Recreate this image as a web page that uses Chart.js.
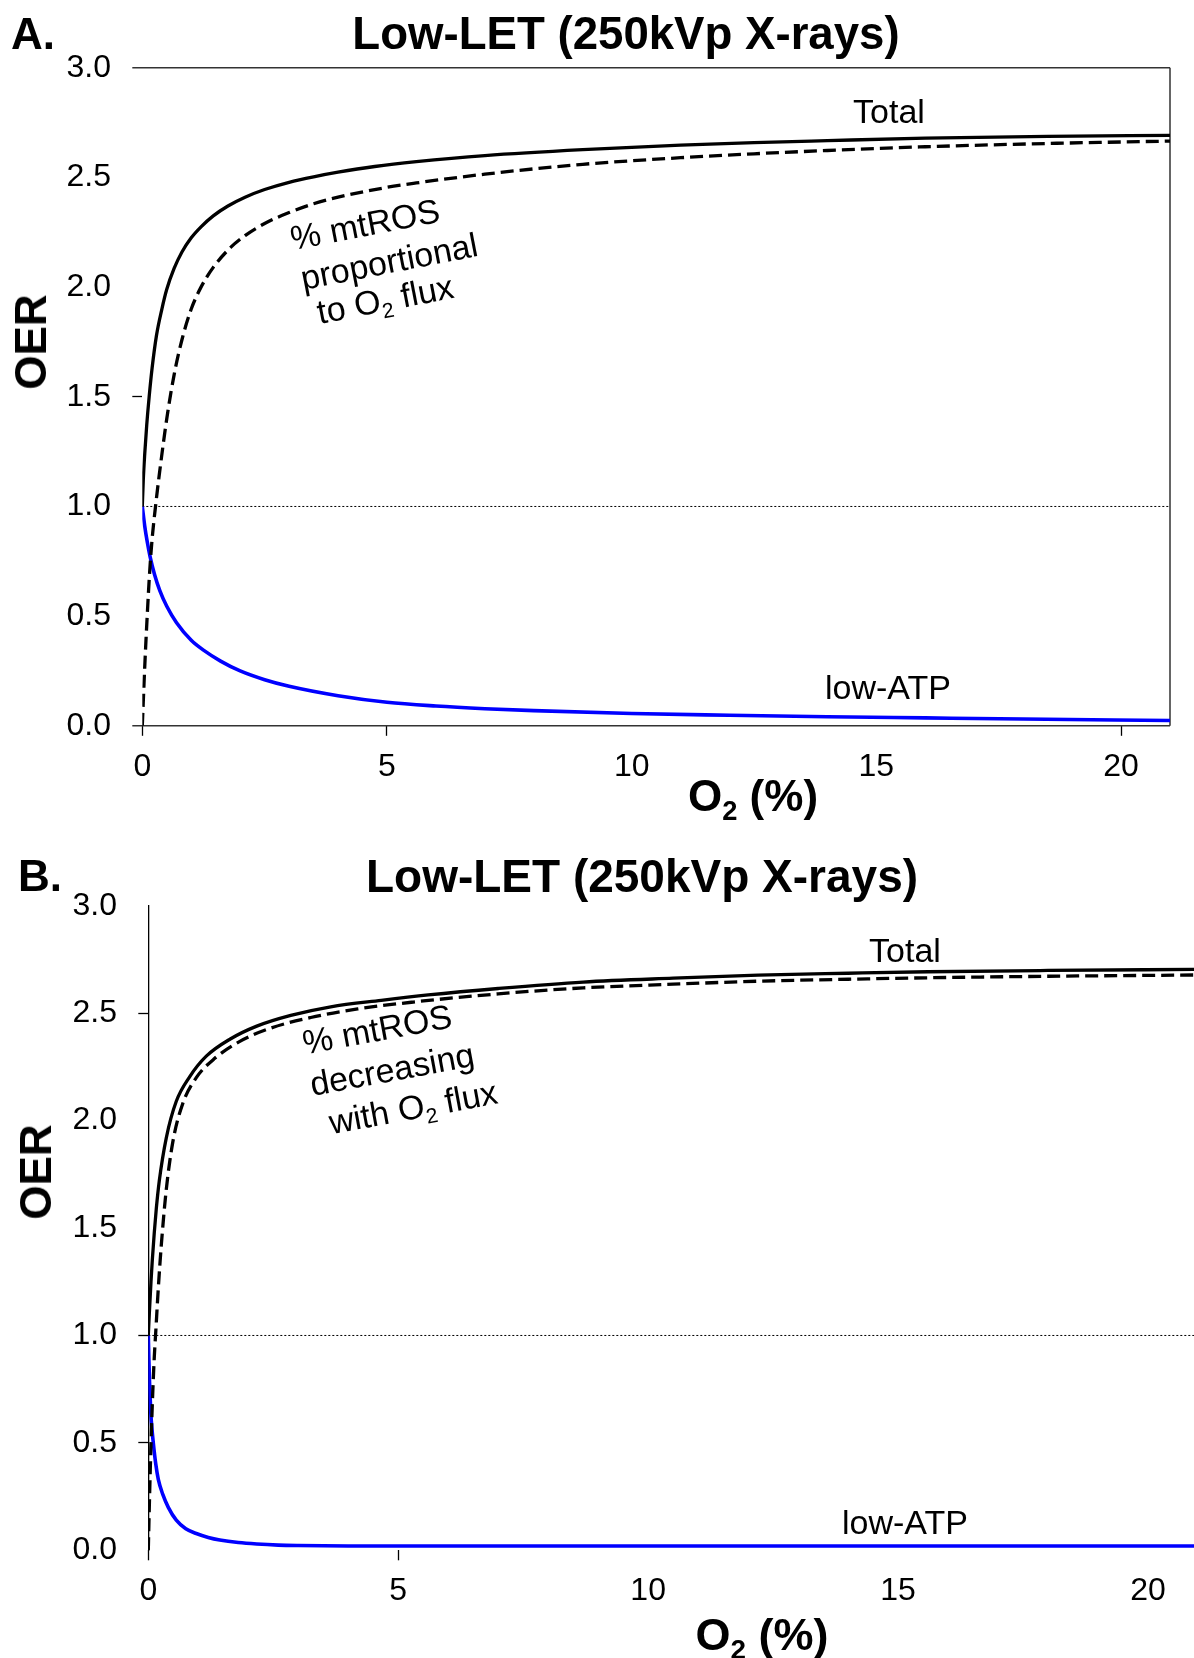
<!DOCTYPE html>
<html>
<head>
<meta charset="utf-8">
<script src="https://cdn.jsdelivr.net/npm/chart.js@4.4.1/dist/chart.umd.min.js"></script>
<style>
  html, body { margin: 0; padding: 0; background: #fff; overflow: hidden; }
  body { width: 1194px; height: 1658px; position: relative; font-family: "Liberation Sans", Arial, sans-serif; color: #000; }
  canvas { position: absolute; left: 0; }
  #chartA { top: 0; }
  #chartB { top: 830px; }
  .lbl { position: absolute; white-space: nowrap; line-height: 1; transform-origin: center center; }
  .lbl sub { font-size: 0.62em; vertical-align: baseline; position: relative; top: 0.32em; line-height: 0; }
</style>
</head>
<body>
<canvas id="chartA" width="1194" height="830"></canvas>
<canvas id="chartB" width="1194" height="828"></canvas>
<script>
// ── axis ticks ──
const xTicks = [0, 5, 10, 15, 20];
const yTicks = [0, 0.5, 1.0, 1.5, 2.0, 2.5, 3.0];
// tick marks that are actually drawn on each panel
const xMarksA = [0, 5, 20];
const yMarksA = [1.5];
const xMarksB = [0, 5];
const yMarksB = [0.5, 1.0, 2.5];

// reference line OER = 1
const refX = [0, 21];
const refY = [1, 1];

// ── panel A: % mtROS proportional to O2 flux ──
const totalAx = [0, 0.02, 0.05, 0.09, 0.14, 0.2, 0.29, 0.4, 0.5, 0.65, 0.81, 1.0, 1.2, 1.45, 1.75, 2.1, 2.5, 3.0, 3.5, 4.0, 4.75, 5.6, 7.0, 9.0, 11.0, 12.5, 14.0, 16.0, 18.5, 21.0];
const totalAy = [1.00, 1.12, 1.24, 1.37, 1.50, 1.63, 1.78, 1.90, 1.99, 2.085, 2.16, 2.225, 2.275, 2.325, 2.37, 2.41, 2.445, 2.478, 2.503, 2.524, 2.55, 2.572, 2.60, 2.627, 2.647, 2.659, 2.668, 2.679, 2.687, 2.692];

const mtrosAx = [0, 0.05, 0.1, 0.15, 0.2, 0.27, 0.35, 0.5, 0.65, 0.81, 1.0, 1.2, 1.45, 1.8, 2.1, 2.5, 3.0, 3.5, 4.0, 5.0, 5.6, 7.0, 9.0, 11.0, 12.5, 14.0, 16.0, 18.5, 21.0];
const mtrosAy = [0, 0.27, 0.50, 0.70, 0.85, 1.00, 1.15, 1.40, 1.60, 1.76, 1.90, 2.00, 2.09, 2.18, 2.235, 2.29, 2.34, 2.38, 2.41, 2.455, 2.475, 2.515, 2.56, 2.59, 2.608, 2.623, 2.64, 2.655, 2.666];

const atpAx = [0, 0.05, 0.1, 0.16, 0.25, 0.36, 0.5, 0.7, 1.0, 1.25, 1.6, 2.0, 2.5, 3.0, 4.0, 5.0, 6.0, 7.0, 8.0, 10.0, 12.0, 14.0, 16.0, 18.0, 21.0];
const atpAy = [1.0, 0.91, 0.84, 0.77, 0.69, 0.615, 0.545, 0.47, 0.39, 0.345, 0.295, 0.25, 0.21, 0.18, 0.137, 0.107, 0.09, 0.078, 0.069, 0.056, 0.048, 0.041, 0.036, 0.031, 0.024];

// ── panel B: % mtROS decreasing with O2 flux ──
const totalBx = [0, 0.02, 0.054, 0.08, 0.12, 0.16, 0.22, 0.36, 0.56, 0.83, 1.16, 1.64, 2.17, 2.85, 3.65, 4.66, 5.6, 7.0, 8.7, 10.5, 12.2, 14.0, 15.6, 18.0, 21.0];
const totalBy = [1.0, 1.10, 1.25, 1.35, 1.48, 1.59, 1.72, 1.92, 2.09, 2.205, 2.30, 2.38, 2.44, 2.49, 2.53, 2.56, 2.585, 2.615, 2.645, 2.663, 2.677, 2.686, 2.693, 2.699, 2.704];

const mtrosBx = [0, 0.02, 0.04, 0.06, 0.09, 0.12, 0.15, 0.2, 0.26, 0.36, 0.49, 0.69, 0.96, 1.33, 1.84, 2.44, 3.25, 4.19, 5.3, 7.0, 8.7, 10.5, 12.2, 14.0, 15.6, 18.0, 21.0];
const mtrosBy = [0, 0.20, 0.38, 0.54, 0.74, 0.90, 1.02, 1.22, 1.42, 1.68, 1.90, 2.08, 2.20, 2.29, 2.37, 2.43, 2.48, 2.52, 2.552, 2.59, 2.618, 2.635, 2.649, 2.658, 2.665, 2.672, 2.678];

const atpBx = [0, 0.01, 0.025, 0.05, 0.075, 0.1, 0.15, 0.2, 0.29, 0.4, 0.56, 0.75, 0.96, 1.2, 1.43, 1.8, 2.17, 2.6, 3.0, 4.0, 8.0, 14.0, 21.0];
const atpBy = [1.0, 0.90, 0.78, 0.64, 0.56, 0.50, 0.40, 0.33, 0.26, 0.20, 0.14, 0.10, 0.078, 0.06, 0.048, 0.036, 0.029, 0.024, 0.022, 0.02, 0.02, 0.02, 0.02];

const FONT = '"Liberation Sans", Arial, sans-serif';
const BLUE = '#0000ff';

function series(xs, ys, color, width, dash) {
  return {
    data: xs.map((x, i) => ({ x, y: ys[i] })),
    borderColor: color,
    borderWidth: width,
    borderDash: dash || [],
    pointRadius: 0,
    fill: false,
    cubicInterpolationMode: 'monotone',
  };
}

// box lines around panel A (top, right, bottom; the left side stays open)
const frameLines = {
  id: 'frameLines',
  beforeDatasetsDraw(chart, args, opts) {
    if (!opts.sides) return;
    const { ctx, chartArea: a } = chart;
    const x0 = a.left - (opts.extendLeft || 0);
    ctx.save();
    ctx.strokeStyle = opts.color;
    ctx.lineWidth = opts.width;
    ctx.beginPath();
    if (opts.sides.includes('top'))    { ctx.moveTo(x0, a.top); ctx.lineTo(a.right, a.top); }
    if (opts.sides.includes('right'))  { ctx.moveTo(a.right, a.top); ctx.lineTo(a.right, a.bottom); }
    if (opts.sides.includes('bottom')) { ctx.moveTo(x0, a.bottom); ctx.lineTo(a.right, a.bottom); }
    ctx.stroke();
    ctx.restore();
  }
};

function markColor(marks) {
  return ctx => (ctx.tick && marks.includes(ctx.tick.value)) ? '#000' : 'rgba(0,0,0,0)';
}

function renderPanel(canvasId, p) {
  const canvas = document.getElementById(canvasId);
  return new Chart(canvas, {
    type: 'line',
    data: {
      datasets: [
        series(p.total[0], p.total[1], '#000', 3.3),
        series(p.mtros[0], p.mtros[1], '#000', 3.3, [13, 6]),
        series(p.atp[0], p.atp[1], BLUE, 3.6),
        { ...series(refX, refY, '#000', 1, [2, 2]), cubicInterpolationMode: 'default' },
      ]
    },
    plugins: p.frame ? [frameLines] : [],
    options: {
      responsive: false,
      animation: false,
      events: [],
      layout: { padding: p.padding },
      plugins: {
        legend: { display: false },
        tooltip: { enabled: false },
        frameLines: p.frame || {},
      },
      scales: {
        x: {
          type: 'linear', min: 0, max: p.xMax,
          afterBuildTicks: s => { s.ticks = xTicks.map(v => ({ value: v })); },
          afterFit: s => { s.height = p.xHeight; },
          border: { display: false },
          grid: { drawOnChartArea: false, drawTicks: true, tickLength: 10, tickWidth: 1.3, tickColor: markColor(p.xMarks) },
          ticks: { color: '#000', font: { family: FONT, size: 32, lineHeight: 1 }, padding: p.xPad, maxRotation: 0, autoSkip: false },
        },
        y: {
          type: 'linear', min: 0, max: 3,
          afterBuildTicks: s => { s.ticks = yTicks.map(v => ({ value: v })); },
          afterFit: s => { s.width = p.yWidth; },
          border: p.yBorder ? { display: true, color: '#000', width: 1.3 } : { display: false },
          grid: { drawOnChartArea: false, drawTicks: true, tickLength: 10, tickWidth: 1.3, tickColor: markColor(p.yMarks) },
          ticks: { color: '#000', font: { family: FONT, size: 32, lineHeight: 1 }, padding: 21.3, callback: v => v.toFixed(1) },
        }
      }
    }
  });
}

renderPanel('chartA', {
  total: [totalAx, totalAy], mtros: [mtrosAx, mtrosAy], atp: [atpAx, atpAy],
  xMax: 21, padding: { top: 67.8, right: 24, bottom: 0, left: 0 },
  xHeight: 104.2, yWidth: 142.3, xPad: 15.2,
  xMarks: xMarksA, yMarks: yMarksA, yBorder: false,
  frame: { sides: ['top', 'right', 'bottom'], extendLeft: 10, color: '#333', width: 1.5 },
});

renderPanel('chartB', {
  total: [totalBx, totalBy], mtros: [mtrosBx, mtrosBy], atp: [atpBx, atpBy],
  xMax: 20.92, padding: { top: 75.8, right: 0, bottom: 0, left: 0 },
  xHeight: 107.7, yWidth: 148.3, xPad: 14.5,
  xMarks: xMarksB, yMarks: yMarksB, yBorder: true,
  frame: null,
});

// ── text: panel letters, titles, axis titles and curve notes ──
const texts = [
  { html: 'A.', x: 33, y: 34, size: 44, bold: true },
  { html: 'Low-LET (250kVp X-rays)', x: 626, y: 34, size: 45.6, bold: true },
  { html: 'OER', x: 31, y: 342, size: 44, bold: true, rot: -90 },
  { html: 'O<sub>2</sub> (%)', x: 753, y: 796, size: 44, bold: true },
  { html: 'Total', x: 889, y: 111, size: 34 },
  { html: 'low-ATP', x: 888, y: 687, size: 34 },
  { html: '% mtROS', x: 364.5, y: 223.8, size: 34, rot: -11 },
  { html: 'proportional', x: 389.4, y: 261.3, size: 34, rot: -11 },
  { html: 'to O<sub>2</sub> flux', x: 384.6, y: 298.8, size: 34, rot: -11 },

  { html: 'B.', x: 40, y: 876, size: 44, bold: true },
  { html: 'Low-LET (250kVp X-rays)', x: 642, y: 876, size: 46, bold: true },
  { html: 'OER', x: 36, y: 1172, size: 44, bold: true, rot: -90 },
  { html: 'O<sub>2</sub> (%)', x: 762, y: 1634, size: 45, bold: true },
  { html: 'Total', x: 905, y: 950, size: 34 },
  { html: 'low-ATP', x: 905, y: 1522, size: 34 },
  { html: '% mtROS', x: 377, y: 1028.8, size: 34, rot: -10.5 },
  { html: 'decreasing', x: 392.4, y: 1068.8, size: 34, rot: -10.5 },
  { html: 'with O<sub>2</sub> flux', x: 412.5, y: 1107.2, size: 34, rot: -10.5 },
];

for (const t of texts) {
  const el = document.createElement('div');
  el.className = 'lbl';
  el.innerHTML = t.html;
  el.style.left = t.x + 'px';
  el.style.top = t.y + 'px';
  el.style.fontSize = t.size + 'px';
  el.style.fontWeight = t.bold ? 'bold' : 'normal';
  el.style.transform = `translate(-50%, -50%) rotate(${t.rot || 0}deg)`;
  document.body.appendChild(el);
}
</script>
</body>
</html>
